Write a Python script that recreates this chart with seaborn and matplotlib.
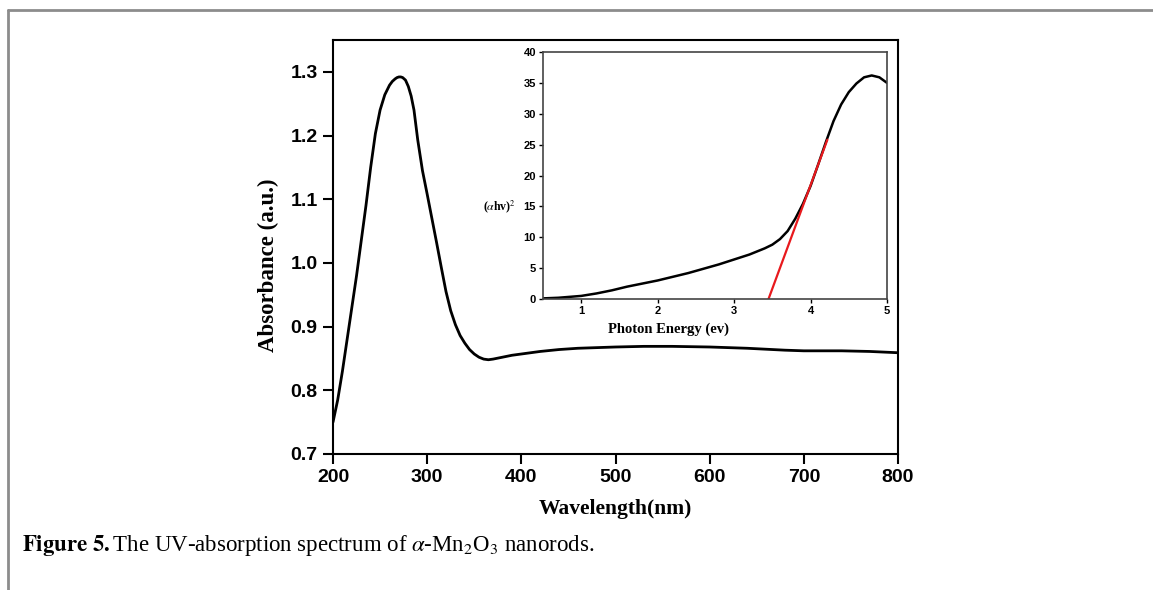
import numpy as np
import matplotlib
matplotlib.use("Agg")
import matplotlib.pyplot as plt
from matplotlib.lines import Line2D
import seaborn as sns

# main spectrum
wavelength = [200, 205, 210, 215, 220, 225, 230, 235, 240, 245, 250, 255, 260, 263,
              266, 268, 270, 272, 274, 277, 280, 283, 286, 290, 295, 300, 305, 310,
              315, 320, 325, 330, 335, 340, 345, 350, 355, 360, 365, 370, 380, 390,
              400, 420, 440, 460, 480, 500, 530, 560, 600, 640, 680, 700, 740, 770, 800]
absorbance = [0.750, 0.785, 0.830, 0.880, 0.930, 0.980, 1.035, 1.090, 1.150, 1.203,
              1.240, 1.264, 1.279, 1.285, 1.289, 1.291, 1.292, 1.292, 1.291, 1.287,
              1.277, 1.262, 1.240, 1.193, 1.145, 1.108, 1.070, 1.032, 0.993, 0.955,
              0.925, 0.903, 0.886, 0.874, 0.864, 0.857, 0.852, 0.849, 0.848, 0.849,
              0.852, 0.855, 0.857, 0.861, 0.864, 0.866, 0.867, 0.868, 0.869, 0.869,
              0.868, 0.866, 0.863, 0.862, 0.862, 0.861, 0.859]

# inset: Tauc plot
photon_energy = [0.5, 0.7, 0.9, 1.0, 1.2, 1.4, 1.6, 1.8, 2.0, 2.2, 2.4, 2.6, 2.8, 3.0,
                 3.2, 3.4, 3.5, 3.6, 3.7, 3.8, 3.9, 4.0, 4.1, 4.2, 4.3, 4.4, 4.5, 4.6,
                 4.7, 4.8, 4.9, 5.0]
tauc = [0.1, 0.2, 0.4, 0.5, 0.9, 1.4, 2.0, 2.5, 3.0, 3.6, 4.2, 4.9, 5.6, 6.4,
        7.2, 8.2, 8.8, 9.7, 11.0, 13.0, 15.4, 18.3, 21.8, 25.4, 28.8, 31.5, 33.5, 34.9,
        35.9, 36.2, 35.9, 35.0]

# linear fit extrapolated to the axis
fit_x = [3.45, 4.22]
fit_y = [0.0, 25.8]

sns.set_style("ticks")
plt.rcParams['font.family'] = ['Liberation Sans', 'DejaVu Sans']
plt.rcParams['mathtext.fontset'] = 'stix'
# plain black text/ticks like the journal figure
for k in ['text.color', 'axes.labelcolor', 'xtick.color', 'ytick.color']:
    plt.rcParams[k] = 'black'

fig = plt.figure(figsize=(11.53, 5.90), dpi=100)

# page frame lines (gray border top and left)
fig.add_artist(Line2D([8 / 1153, 1], [1 - 10 / 590, 1 - 10 / 590], color="#8c8c8c", lw=2))
fig.add_artist(Line2D([8 / 1153, 8 / 1153], [0, 1 - 10 / 590], color="#8c8c8c", lw=2))

# --- main axes ---
ax = fig.add_axes([333 / 1153, 1 - 454 / 590, 565 / 1153, 414 / 590])
sns.lineplot(x=wavelength, y=absorbance, ax=ax, color="black", linewidth=2,
             solid_joinstyle="round")
ax.set_xlim(200, 800)
ax.set_ylim(0.7, 1.35)
ax.set_xticks([200, 300, 400, 500, 600, 700, 800])
ax.set_yticks([0.7, 0.8, 0.9, 1.0, 1.1, 1.2, 1.3])
ax.tick_params(direction="out", length=7, width=1.5, labelsize=14, pad=4)
for lab in ax.get_xticklabels() + ax.get_yticklabels():
    lab.set_fontweight("bold")
for s in ax.spines.values():
    s.set_linewidth(1.5)
    s.set_color("black")
ax.set_xlabel("Wavelength(nm)", family=["Liberation Serif"], fontweight="bold", fontsize=15.5)
ax.xaxis.set_label_coords(0.5, -(499 - 454) / 414)
ax.set_ylabel("Absorbance (a.u.)", family=["Liberation Serif"], fontweight="bold", fontsize=16.5)
ax.yaxis.set_label_coords(-(333 - 279) / 565, (454 - 265) / 414)

# --- inset ---
ins = fig.add_axes([543 / 1153, 1 - 299 / 590, 344 / 1153, 247 / 590])
sns.lineplot(x=photon_energy, y=tauc, ax=ins, color="black", linewidth=1.8,
             solid_joinstyle="round")
sns.lineplot(x=fit_x, y=fit_y, ax=ins, color="#e8191d", linewidth=1.6)
ins.set_xlim(0.5, 5)
ins.set_ylim(0, 40)
ins.set_xticks([1, 2, 3, 4, 5])
ins.set_yticks(range(0, 41, 5))
ins.tick_params(direction="out", length=3, width=1, labelsize=8, pad=2)
for lab in ins.get_xticklabels() + ins.get_yticklabels():
    lab.set_fontweight("bold")
for s in ins.spines.values():
    s.set_linewidth(1.2)
    s.set_color("#444444")
ins.set_xlabel("Photon Energy (ev)", family=["Liberation Serif"], fontweight="bold", fontsize=10.5)
ins.xaxis.set_label_coords((668 - 543) / 344, -0.095)
ins.set_ylabel(r"($\alpha$hv)$^2$", family=["Liberation Serif"], fontweight="bold", fontsize=8.5,
               rotation=0, ha="right", va="center")
ins.yaxis.set_label_coords(-0.08, (299 - 207) / 247)

# caption
fig.text(22 / 1153, 1 - 546 / 590, r"$\mathbf{Figure\ 5.}$The UV-absorption spectrum of $\alpha$-Mn$_2$O$_3$ nanorods.",
         family=["Liberation Serif"], fontsize=16.5, va="center", ha="left")

fig.savefig("out.png", dpi=100)
